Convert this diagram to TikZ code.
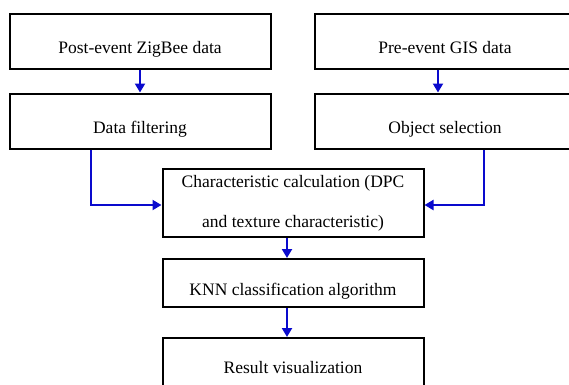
\documentclass[tikz,border=0pt]{standalone}
\usepackage{fontspec}
\setmainfont{Liberation Serif}
\usetikzlibrary{arrows.meta,calc}
\definecolor{flowblue}{RGB}{10,10,205}
\begin{document}
\begin{tikzpicture}[x=1pt,y=-1pt,
  stagebox/.style={draw=black,line width=2pt,rectangle,minimum width=261pt,
    inner sep=0pt,align=center,font=\fontsize{17.5}{40}\selectfont},
  lowtext/.style={text height=24pt,text depth=0pt},
  flow/.style={draw=flowblue,line width=2pt,
    -{Triangle[length=9pt,width=10pt]}}]
  \useasboundingbox (0,0) rectangle (569,384);
  \clip (0,0) rectangle (569,384);
  % input stages
  \node[stagebox,lowtext,minimum height=55pt] (zig) at (140,41) {Post-event ZigBee data};
  \node[stagebox,lowtext,minimum height=55pt] (gis) at (445,41) {Pre-event GIS data};
  \node[stagebox,lowtext,minimum height=55pt] (filt) at (140,121) {Data filtering};
  \node[stagebox,lowtext,minimum height=55pt] (obj) at (445,121) {Object selection};
  % processing chain
  \node[stagebox,minimum height=68pt] (calc) at (293,203)
    {Characteristic calculation (DPC\\and texture characteristic)};
  \node[stagebox,lowtext,minimum height=48pt] (knn) at (293,283) {KNN classification algorithm};
  \node[stagebox,minimum height=62pt,text depth=0pt] (res) at (293,369) {};
  \node[font=\fontsize{17.5}{21}\selectfont] (restext) at (293,368) {Result visualization};
  % connectors
  \coordinate (lx) at (90.7,0);
  \coordinate (rx) at (484,0);
  \draw[flow] (zig.south) -- (filt.north);
  \draw[flow] ([xshift=-7pt]gis.south) -- ([xshift=-7pt]obj.north);
  \draw[flow] (filt.south -| lx) |- ([yshift=-2pt]calc.west);
  \draw[flow] (obj.south -| rx) |- ([yshift=-2pt]calc.east);
  \draw[flow] ([xshift=-6pt]calc.south) -- ([xshift=-6pt]knn.north);
  \draw[flow] ([xshift=-6pt]knn.south) -- ([xshift=-6pt]res.north);
\end{tikzpicture}
\end{document}
